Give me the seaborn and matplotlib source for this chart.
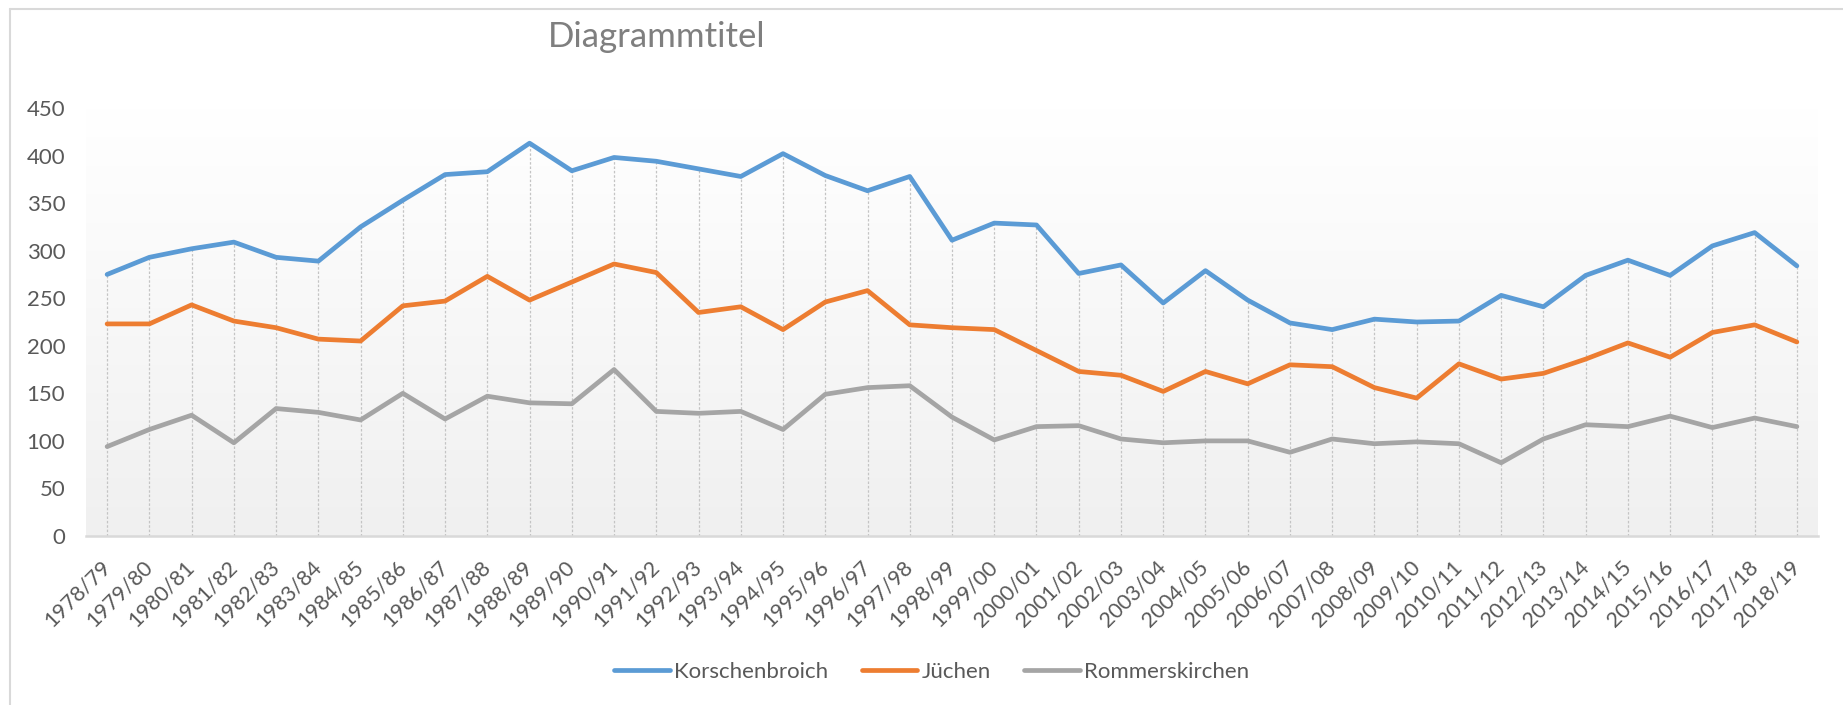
import numpy as np
import pandas as pd
import matplotlib
matplotlib.use("Agg")
import matplotlib.pyplot as plt
from matplotlib.lines import Line2D
from matplotlib.colors import LinearSegmentedColormap
import seaborn as sns

# data
seasons = ["1978/79", "1979/80", "1980/81", "1981/82", "1982/83", "1983/84", "1984/85",
           "1985/86", "1986/87", "1987/88", "1988/89", "1989/90", "1990/91", "1991/92",
           "1992/93", "1993/94", "1994/95", "1995/96", "1996/97", "1997/98", "1998/99",
           "1999/00", "2000/01", "2001/02", "2002/03", "2003/04", "2004/05", "2005/06",
           "2006/07", "2007/08", "2008/09", "2009/10", "2010/11", "2011/12", "2012/13",
           "2013/14", "2014/15", "2015/16", "2016/17", "2017/18", "2018/19"]
korschenbroich = [275, 293, 302, 309, 293, 289, 325, 353, 380, 383, 413, 384, 398, 394,
                  386, 378, 402, 379, 363, 378, 311, 329, 327, 276, 285, 245, 279, 248,
                  224, 217, 228, 225, 226, 253, 241, 274, 290, 274, 305, 319, 284]
juechen = [223, 223, 243, 226, 219, 207, 205, 242, 247, 273, 248, 267, 286, 277,
           235, 241, 217, 246, 258, 222, 219, 217, 195, 173, 169, 152, 173, 160,
           180, 178, 156, 145, 181, 165, 171, 186, 203, 188, 214, 222, 204]
rommerskirchen = [94, 112, 127, 98, 134, 130, 122, 150, 123, 147, 140, 139, 175, 131,
                  129, 131, 112, 149, 156, 158, 125, 101, 115, 116, 102, 98, 100, 100,
                  88, 102, 97, 99, 97, 77, 102, 117, 115, 126, 114, 124, 115]
series_names = ["Korschenbroich", "Jüchen", "Rommerskirchen"]
colors = ["#5B9BD5", "#ED7D31", "#A5A5A5"]

df = pd.DataFrame({"Saison": seasons,
                   "Korschenbroich": korschenbroich,
                   "Jüchen": juechen,
                   "Rommerskirchen": rommerskirchen})
df["pos"] = np.arange(len(df))
long_df = df.melt(id_vars=["Saison", "pos"], var_name="Gemeinde", value_name="Wert")

sns.set_theme(style="white")
plt.rcParams["font.family"] = ["Lato", "DejaVu Sans"]
plt.rcParams["lines.solid_joinstyle"] = "round"
plt.rcParams["lines.solid_capstyle"] = "round"

fig = plt.figure(figsize=(18.43, 7.05), dpi=100)
ax = fig.add_axes([86 / 1843, 1 - 536 / 705, (1818 - 86) / 1843, (536 - 108) / 705])

n = len(seasons)
# plot area gradient (white top -> light grey bottom)
grad = np.linspace(0, 1, 256).reshape(-1, 1)
bg = LinearSegmentedColormap.from_list("bg", ["#ffffff", "#f0f0f0"])
ax.imshow(grad, extent=(-0.5, n - 0.5, 0, 450), origin="upper", aspect="auto",
          cmap=bg, zorder=0)

# drop lines from the highest series
ax.vlines(df["pos"], 0, df["Korschenbroich"], colors="#c4c4c4",
          linestyles=(0, (2, 1.5)), linewidth=0.9, zorder=1)

sns.lineplot(data=long_df, x="pos", y="Wert", hue="Gemeinde", hue_order=series_names,
             palette=colors, linewidth=3.4, sort=False, legend=False, ax=ax, zorder=3)

ax.set_xlim(-0.5, n - 0.5)
ax.set_ylim(0, 450)
ax.set_yticks(range(0, 451, 50))
ax.set_xticks(df["pos"])
ax.set_xticklabels(seasons, rotation=45, ha="right", va="center", rotation_mode="anchor")
ax.set_xlabel("")
ax.set_ylabel("")
for side in ["top", "right", "left"]:
    ax.spines[side].set_visible(False)
ax.spines["bottom"].set_color("#d9d9d9")
ax.spines["bottom"].set_linewidth(1.8)
ax.tick_params(axis="y", length=0, pad=15, labelsize=16, labelcolor="#595959")
ax.tick_params(axis="x", length=0, pad=20, labelsize=15.5, labelcolor="#595959")

fig.text(657 / 1843, 1 - 37 / 705, "Diagrammtitel", ha="center", va="center",
         fontsize=25, color="#7f7f7f")

handles = [Line2D([], [], color=c, linewidth=3.4) for c in colors]
fig.legend(handles, series_names, loc="center", bbox_to_anchor=(932 / 1843, 1 - 672 / 705),
           ncol=3, frameon=False, fontsize=16, labelcolor="#595959",
           handlelength=2.5, handletextpad=0.2, columnspacing=1.5)

# chart frame (top and left edges visible)
fig.add_artist(Line2D([10 / 1843, 1], [1 - 9 / 705, 1 - 9 / 705],
                      transform=fig.transFigure, color="#d9d9d9", linewidth=1.5))
fig.add_artist(Line2D([10 / 1843, 10 / 1843], [0, 1 - 9 / 705],
                      transform=fig.transFigure, color="#d9d9d9", linewidth=1.5))

fig.savefig("out.png", dpi=100)
